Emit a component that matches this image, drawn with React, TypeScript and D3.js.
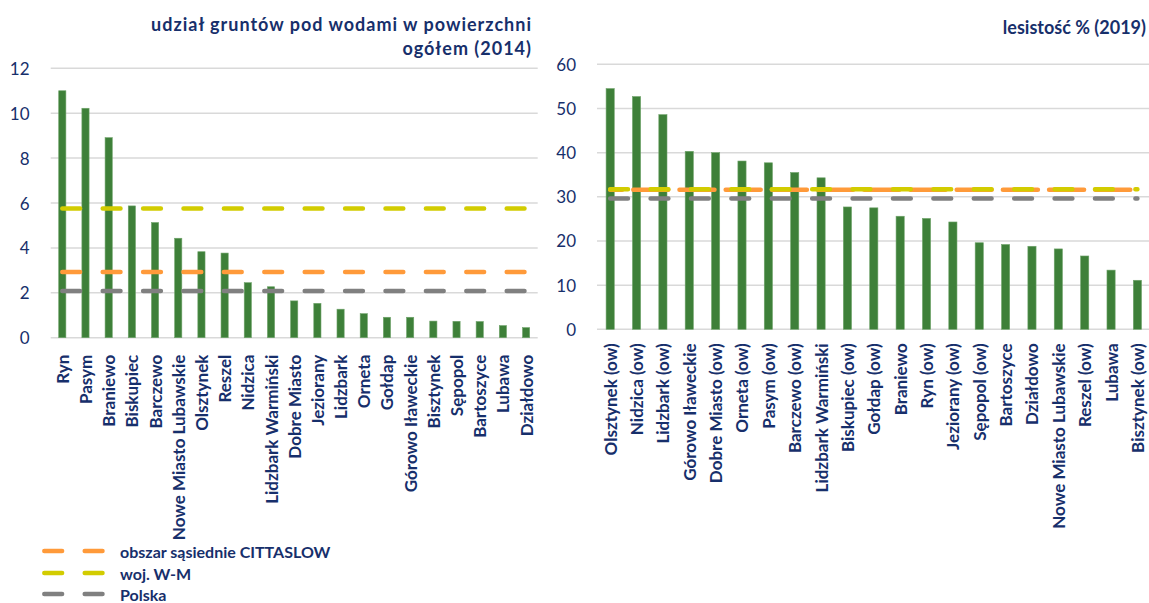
import React from "react";
import * as d3 from "d3";

// udział gruntów pod wodami (2014)
const waterTowns = [
  "Ryn", "Pasym", "Braniewo", "Biskupiec", "Barczewo", "Nowe Miasto Lubawskie",
  "Olsztynek", "Reszel", "Nidzica", "Lidzbark Warmiński", "Dobre Miasto", "Jeziorany",
  "Lidzbark", "Orneta", "Gołdap", "Górowo Iławeckie", "Bisztynek", "Sępopol",
  "Bartoszyce", "Lubawa", "Działdowo",
];
const waterValues = [
  11.0, 10.22, 8.91, 5.87, 5.13, 4.43, 3.83, 3.77, 2.45, 2.27, 1.64, 1.53,
  1.27, 1.07, 0.91, 0.91, 0.74, 0.73, 0.72, 0.54, 0.45,
];
const waterTicks = [0, 2, 4, 6, 8, 10, 12];
const waterCittaslow = 2.93;
const waterWM = 5.75;
const waterPolska = 2.08;

// lesistość % (2019)
const forestTowns = [
  "Olsztynek (ow)", "Nidzica (ow)", "Lidzbark (ow)", "Górowo Iławeckie", "Dobre Miasto (ow)",
  "Orneta (ow)", "Pasym (ow)", "Barczewo (ow)", "Lidzbark Warmiński", "Biskupiec (ow)",
  "Gołdap (ow)", "Braniewo", "Ryn (ow)", "Jeziorany (ow)", "Sępopol (ow)", "Bartoszyce",
  "Działdowo", "Nowe Miasto Lubawskie", "Reszel (ow)", "Lubawa", "Bisztynek (ow)",
];
const forestValues = [
  54.5, 52.7, 48.6, 40.3, 40.0, 38.1, 37.7, 35.5, 34.3, 27.7, 27.5, 25.6,
  25.1, 24.3, 19.6, 19.2, 18.8, 18.2, 16.6, 13.4, 11.1,
];
const forestTicks = [0, 10, 20, 30, 40, 50, 60];
const forestCittaslow = 31.6;
const forestWM = 31.7;
const forestPolska = 29.6;

const legendLabels = ["obszar sąsiednie CITTASLOW", "woj. W-M", "Polska"];

const NAVY = "#172f6b";
const GREEN = "#3e8039";
const ORANGE = "#ff9a3a";
const YELLOW = "#d2cc00";
const GREY = "#808080";
const FONT = "Lato, 'Open Sans', sans-serif";

type RefLine = { value: number; color: string; dash: string; offset?: number };

function Panel({ towns, values, ticks, refs, x0, x1, yTop, yBottom, labelX, labelGap }: {
  towns: string[]; values: number[]; ticks: number[]; refs: RefLine[];
  x0: number; x1: number; yTop: number; yBottom: number; labelX: number; labelGap: number;
}) {
  const x = d3.scaleBand<string>().domain(towns).range([x0, x1]).paddingInner(0).paddingOuter(0);
  const y = d3.scaleLinear().domain([ticks[0], ticks[ticks.length - 1]]).range([yBottom, yTop]);
  const bw = x.bandwidth() * 0.31;
  const cx = (t: string) => (x(t) as number) + x.bandwidth() / 2;
  const line = d3.line<string>();

  return (
    <g>
      {ticks.map((t) => (
        <g key={t}>
          <line x1={x0} x2={x1} y1={y(t)} y2={y(t)} stroke="#d9d9d9" strokeWidth={1.5} />
          <text x={labelX} y={y(t)} textAnchor="end" dominantBaseline="central"
            fontFamily={FONT} fontSize={17} fill={NAVY}>{t}</text>
        </g>
      ))}
      {towns.map((t, i) => (
        <rect key={t} x={cx(t) - bw / 2} y={y(values[i])} width={bw}
          height={y(0) - y(values[i])} fill={GREEN} stroke="#6fa36a" strokeWidth={0.6} />
      ))}
      {refs.map((r, k) => (
        <path key={k}
          d={line.x((t) => cx(t)).y(() => y(r.value))(towns) || ""}
          fill="none" stroke={r.color} strokeWidth={4.5} strokeLinecap="round"
          strokeDasharray={r.dash} strokeDashoffset={r.offset || 0} />
      ))}
      {towns.map((t) => (
        <text key={t} transform={`translate(${cx(t)},${yBottom + labelGap}) rotate(-90)`}
          textAnchor="end" dominantBaseline="central" fontFamily={FONT}
          fontWeight="bold" fontSize={17} fill={NAVY}>{t}</text>
      ))}
    </g>
  );
}

const DASH = "17.8 22.6";

export default function App() {
  const legendColors = [ORANGE, YELLOW, GREY];
  const legendY = [551, 573, 594];
  return (
    <svg width={1149} height={603} style={{ position: "absolute", left: 0, top: 0, background: "#fff" }}>
      <text x={532} y={31} textAnchor="end" fontFamily={FONT} fontWeight="bold" fontSize={18}
        letterSpacing={1} fill={NAVY}>
        udział gruntów pod wodami w powierzchni
      </text>
      <text x={532} y={55} textAnchor="end" fontFamily={FONT} fontWeight="bold" fontSize={18}
        letterSpacing={1} fill={NAVY}>
        ogółem (2014)
      </text>
      <text x={1146} y={34} textAnchor="end" fontFamily={FONT} fontWeight="bold" fontSize={18} fill={NAVY}>
        lesistość % (2019)
      </text>
      <Panel towns={waterTowns} values={waterValues} ticks={waterTicks}
        refs={[
          { value: waterCittaslow, color: ORANGE, dash: DASH },
          { value: waterWM, color: YELLOW, dash: DASH },
          { value: waterPolska, color: GREY, dash: DASH },
        ]}
        x0={50.7} x1={537.7} yTop={68.3} yBottom={337.7} labelX={29.5} labelGap={17} />
      <Panel towns={forestTowns} values={forestValues} ticks={forestTicks}
        refs={[
          { value: forestCittaslow, color: ORANGE, dash: "35 11.2", offset: 23.1 },
          { value: forestWM, color: YELLOW, dash: DASH },
          { value: forestPolska, color: GREY, dash: DASH },
        ]}
        x0={597} x1={1150.6} yTop={64.3} yBottom={329.3} labelX={576} labelGap={14} />
      {legendLabels.map((l, i) => (
        <g key={l}>
          <line x1={44.3} x2={102.5} y1={legendY[i]} y2={legendY[i]} stroke={legendColors[i]}
            strokeWidth={4.5} strokeLinecap="round" strokeDasharray={DASH} />
          <text x={120} y={legendY[i]} dominantBaseline="central" fontFamily={FONT}
            fontWeight="bold" fontSize={16} fill={NAVY}>{l}</text>
        </g>
      ))}
    </svg>
  );
}
